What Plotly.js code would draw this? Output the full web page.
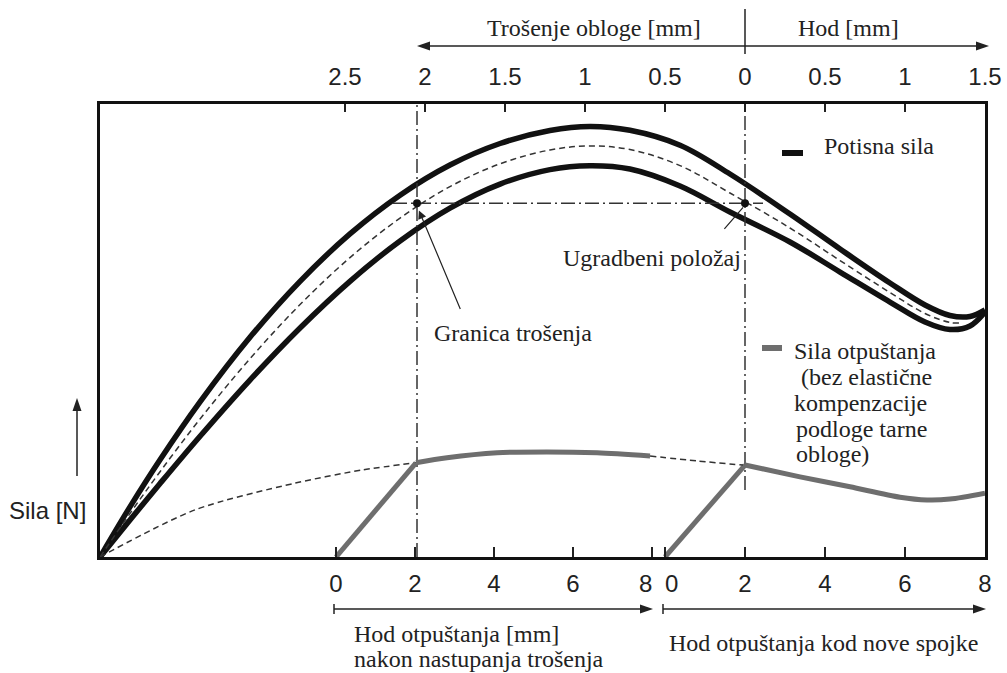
<!DOCTYPE html>
<html>
<head>
<meta charset="utf-8">
<script src="https://cdn.plot.ly/plotly-3.0.1.min.js"></script>
<style>html,body{margin:0;padding:0;background:#fff;}#chart{width:1007px;height:673px;}</style>
</head>
<body>
<div id="chart"></div>
<script>
// ---- data (stroke in mm: negative = lining wear, positive = stroke; force in relative units) ----
const topTickVals = [-2.5, -2, -1.5, -1, -0.5, 0, 0.5, 1, 1.5];
const topTickText = ['2.5', '2', '1.5', '1', '0.5', '0', '0.5', '1', '1.5'];
const releaseTickVals = [0, 2, 4, 6, 8];
const releaseTickTextWorn = ['0', '2', '4', '6', ''];
const releaseTickTextNew = ['', '2', '4', '6', '8'];

const strokeThrust = [-4.031, -3.844, -3.656, -3.406, -3.094, -2.781, -2.469, -2.156, -1.844, -1.531, -1.219, -0.969, -0.719, -0.406, -0.094, 0.281, 0.594, 0.906, 1.125, 1.281, 1.406, 1.5];
const forceUpper = [0, 11.06, 21.46, 34.24, 48.50, 60.86, 71.32, 79.87, 86.53, 91.28, 94.15, 95.05, 94.20, 90.90, 84.55, 75.72, 67.99, 60.49, 55.63, 53.31, 53.09, 54.53];
const forceLower = [0, 8.17, 16.23, 26.67, 39.07, 50.57, 60.86, 69.76, 77.00, 82.32, 85.52, 86.38, 85.65, 81.90, 76.16, 69.54, 62.91, 56.29, 51.88, 50.22, 50.99, 54.08];

const strokeMid = [-4.031, -3.844, -3.656, -3.406, -3.094, -2.781, -2.469, -2.156, -1.844, -1.531, -1.219, -0.969, -0.719, -0.406, -0.094, 0.281, 0.594, 0.906, 1.125, 1.281, 1.344];
const forceMid = [0, 9.60, 18.83, 30.46, 43.77, 55.72, 66.09, 74.81, 81.77, 86.80, 89.85, 90.73, 89.95, 86.40, 80.35, 72.63, 65.45, 58.39, 53.75, 51.77, 51.66];

// release after wear (release stroke mm, worn clutch axis)
const relWornRampR = [0, 2.025];
const relWornRampF = [0, 20.8];
const relWornR = [2.025, 2.81, 4.08, 5.34, 6.61, 7.95];
const relWornF = [20.8, 21.9, 23.0, 23.2, 23.0, 22.3];
const relWornContR = [7.95, 9.14, 10.30];
const relWornContF = [22.3, 21.2, 20.3];
const relWornLeadR = [-5.975, -3.57, -1.04, 0.66, 2.025];
const relWornLeadF = [0, 10.4, 16.3, 19.2, 20.8];

// release of new clutch (release stroke mm, new clutch axis)
const relNewRampR = [0, 2];
const relNewRampF = [0, 20.3];
const relNewR = [2, 3.375, 4.625, 5.875, 6.55, 7.125, 8];
const relNewF = [20.3, 17.7, 15.5, 13.2, 12.6, 12.8, 14.1];

const wearLimit = -2.05;
const installStroke = 0;
const installForce = 78.1;
const installLineX = [-2.2, 0.1125];
const newStrokeLineBottom = 14.8;

// ---- helpers for layout positions (pixels -> paper) ----
const L = 100, R = 985, T = 104, B = 557;
const px = x => (x - L) / (R - L);
const py = y => (B - y) / (B - T);

const black = '#111';
const gray = '#6e6e6e';
const dashDot = '14px,4px,2px,4px';
const serif = 'Liberation Serif, Times New Roman, serif';
const sans = 'Liberation Sans, Arial, sans-serif';

const traces = [
  {x: strokeThrust, y: forceUpper, mode: 'lines', line: {color: black, width: 5.5, shape: 'spline', smoothing: 1}},
  {x: strokeThrust, y: forceLower, mode: 'lines', line: {color: black, width: 5.5, shape: 'spline', smoothing: 1}},
  {x: strokeMid, y: forceMid, mode: 'lines', line: {color: '#333', width: 1.5, dash: '6px,4px', shape: 'spline', smoothing: 1}},
  {x: [wearLimit, wearLimit], y: [0, 100], mode: 'lines', line: {color: '#333', width: 1.5, dash: dashDot}},
  {x: [installStroke, installStroke], y: [newStrokeLineBottom, 100], mode: 'lines', line: {color: '#333', width: 1.5, dash: dashDot}},
  {x: installLineX, y: [installForce, installForce], mode: 'lines', line: {color: '#333', width: 1.5, dash: dashDot}},
  {x: [wearLimit, installStroke], y: [installForce, installForce], mode: 'markers', marker: {color: black, size: 8}},
  {x: relWornLeadR, y: relWornLeadF, xaxis: 'x3', mode: 'lines', line: {color: '#333', width: 1.5, dash: '6px,4px', shape: 'spline', smoothing: 0.8}},
  {x: relWornContR, y: relWornContF, xaxis: 'x3', mode: 'lines', line: {color: '#333', width: 1.5, dash: '6px,4px', shape: 'spline', smoothing: 0.8}},
  {x: relWornRampR, y: relWornRampF, xaxis: 'x3', mode: 'lines', line: {color: gray, width: 5}},
  {x: relWornR, y: relWornF, xaxis: 'x3', mode: 'lines', line: {color: gray, width: 5, shape: 'spline', smoothing: 0.8}},
  {x: relNewRampR, y: relNewRampF, xaxis: 'x2', mode: 'lines', line: {color: gray, width: 5}},
  {x: relNewR, y: relNewF, xaxis: 'x2', mode: 'lines', line: {color: gray, width: 5, shape: 'spline', smoothing: 0.8}}
];
traces.forEach(t => { t.hoverinfo = 'skip'; t.showlegend = false; });

function tri(x1, y1, x2, y2, x3, y3) {
  return {type: 'path', xref: 'paper', yref: 'paper', fillcolor: '#222', line: {width: 0},
    path: `M ${px(x1)} ${py(y1)} L ${px(x2)} ${py(y2)} L ${px(x3)} ${py(y3)} Z`};
}
function seg(x1, y1, x2, y2, w, c) {
  return {type: 'line', xref: 'paper', yref: 'paper', x0: px(x1), y0: py(y1), x1: px(x2), y1: py(y2),
    line: {color: c || '#222', width: w || 1.5}};
}

const shapes = [
  // top arrows
  seg(428, 46, 745, 46), tri(417, 46, 430, 41.5, 430, 50.5),
  seg(745, 46, 978, 46), tri(989, 46, 976, 41.5, 976, 50.5),
  seg(745, 9, 745, 54),
  // bottom arrows
  seg(334, 609, 642, 609), tri(653, 609, 640, 604.5, 640, 613.5), seg(334, 604, 334, 614),
  seg(663, 609, 975, 609), tri(986, 609, 973, 604.5, 973, 613.5), seg(663, 604, 663, 614),
  // y arrow
  seg(77, 476, 77, 410), tri(77, 398, 72.5, 411, 81.5, 411),
  // legend keys
  seg(782, 153, 803, 153, 6, black),
  seg(762, 348, 782, 348, 6, gray)
];

function txt(text, x, y, xanchor, font) {
  return {text: text, xref: 'paper', yref: 'paper', x: px(x), y: py(y), xanchor: xanchor || 'left', yanchor: 'middle',
    showarrow: false, font: font || {family: serif, size: 24, color: '#222'}};
}
const tickFont = {family: sans, size: 24, color: '#222'};

const annotations = [
  txt('Trošenje obloge [mm]', 594, 28, 'center'),
  txt('Hod [mm]', 848, 28, 'center'),
  txt('Potisna sila', 822, 146),
  txt('Sila otpuštanja', 792, 351),
  txt('(bez elastične', 799, 377),
  txt('kompenzacije', 792, 403),
  txt('podloge tarne', 794, 429),
  txt('obloge)', 794, 454),
  txt('Granica trošenja', 432, 333),
  txt('Ugradbeni položaj', 561, 258),
  txt('Hod otpuštanja [mm]', 352, 634),
  txt('nakon nastupanja trošenja', 352, 659),
  txt('Hod otpuštanja kod nove spojke', 667, 643),
  txt('Sila [N]', 7, 510, 'left', {family: sans, size: 24, color: '#222'}),
  // the two adjoining tick labels where the release scales meet
  txt('8', 645, 583, 'center', tickFont),
  txt('0', 671, 583, 'center', tickFont),
  {text: '', xref: 'x', yref: 'y', x: wearLimit + 0.012, y: installForce - 1.6, ax: 42, ay: 100,
    showarrow: true, arrowhead: 2, arrowsize: 1.4, arrowwidth: 1.2, arrowcolor: '#222'},
  {text: '', xref: 'x', yref: 'y', x: installStroke - 0.012, y: installForce - 0.9, ax: -20, ay: 23,
    showarrow: true, arrowhead: 0, arrowwidth: 1.2, arrowcolor: '#222'}
];

const layout = {
  width: 1007, height: 673,
  margin: {l: L, r: 1007 - R, t: T, b: 673 - B, pad: 0},
  paper_bgcolor: '#fff', plot_bgcolor: '#fff',
  showlegend: false,
  xaxis: {range: [-4.03125, 1.5], side: 'top', tickvals: topTickVals, ticktext: topTickText,
    ticks: 'inside', ticklen: 8, tickwidth: 2, tickcolor: '#222', tickfont: tickFont, ticklabelstandoff: 6,
    showgrid: false, zeroline: false, showline: true, mirror: true, linewidth: 3, linecolor: black, fixedrange: true},
  xaxis2: {overlaying: 'x', anchor: 'y', side: 'bottom', range: [-14.125, 8], tickvals: releaseTickVals, ticktext: releaseTickTextNew,
    ticks: 'inside', ticklen: 10, tickwidth: 2, tickcolor: '#222', tickfont: tickFont, ticklabelstandoff: 10,
    showgrid: false, zeroline: false, showline: false, fixedrange: true},
  xaxis3: {overlaying: 'x', anchor: 'y', side: 'bottom', range: [-5.975, 16.43], tickvals: releaseTickVals, ticktext: releaseTickTextWorn,
    ticks: 'inside', ticklen: 10, tickwidth: 2, tickcolor: '#222', tickfont: tickFont, ticklabelstandoff: 10,
    showgrid: false, zeroline: false, showline: false, fixedrange: true},
  yaxis: {range: [0, 100], showticklabels: false, ticks: '', showgrid: false, zeroline: false,
    showline: true, mirror: true, linewidth: 3, linecolor: black, fixedrange: true},
  shapes: shapes,
  annotations: annotations
};

Plotly.newPlot('chart', traces, layout, {staticPlot: true, displayModeBar: false});
</script>
</body>
</html>
